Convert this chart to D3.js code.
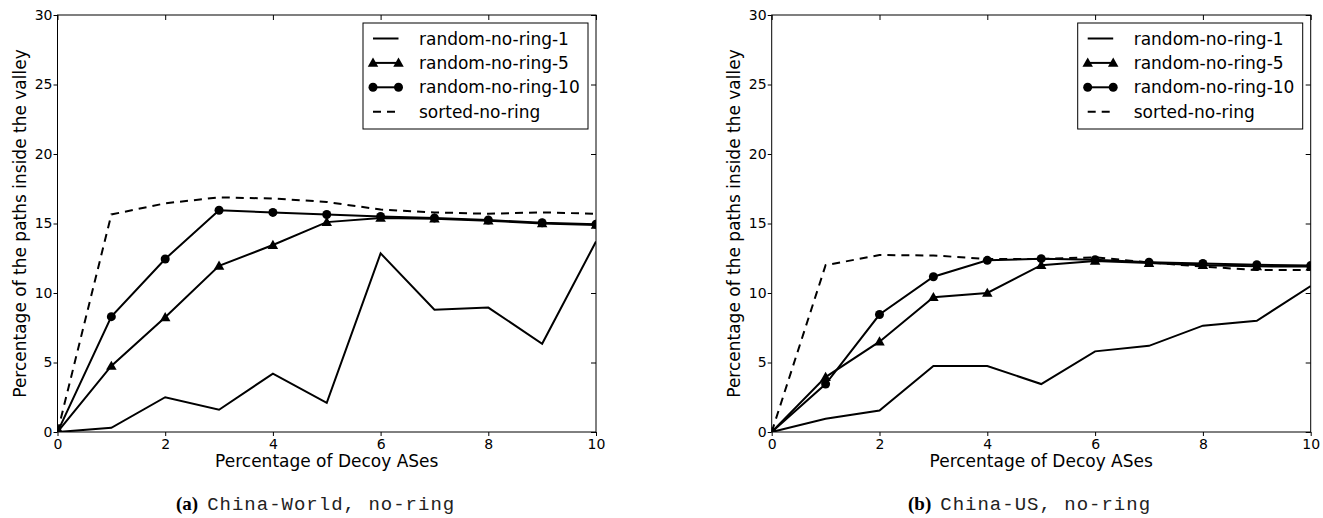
<!DOCTYPE html>
<html>
<head>
<meta charset="utf-8">
<script src="https://cdn.jsdelivr.net/npm/d3@7"></script>
<style>
  html, body { margin: 0; padding: 0; background: #fff; }
  svg { display: block; }
</style>
</head>
<body>
<svg id="chart" width="1323" height="518"></svg>
<script>
// Shared x values (percentage of decoy ASes)
const xValues = [0, 1, 2, 3, 4, 5, 6, 7, 8, 9, 10];
const xTicks = [0, 2, 4, 6, 8, 10];
const yTicks = [0, 5, 10, 15, 20, 25, 30];

const seriesNames = ["random-no-ring-1", "random-no-ring-5", "random-no-ring-10", "sorted-no-ring"];

// (a) China-World, no-ring
const worldRandom1  = [0, 0.3, 2.5, 1.6, 4.2, 2.1, 12.85, 8.8, 8.95, 6.35, 13.7];
const worldRandom5  = [0, 4.75, 8.25, 11.95, 13.45, 15.1, 15.4, 15.35, 15.2, 15.0, 14.9];
const worldRandom10 = [0, 8.3, 12.45, 15.95, 15.8, 15.65, 15.5, 15.4, 15.25, 15.05, 14.95];
const worldSorted   = [0, 15.65, 16.45, 16.88, 16.8, 16.55, 16.0, 15.8, 15.7, 15.8, 15.7];

// (b) China-US, no-ring
const usRandom1  = [0, 0.95, 1.55, 4.75, 4.75, 3.45, 5.8, 6.2, 7.65, 8.0, 10.5];
const usRandom5  = [0, 3.95, 6.5, 9.7, 10.0, 12.0, 12.3, 12.15, 12.0, 11.92, 11.9];
const usRandom10 = [0, 3.45, 8.45, 11.17, 12.35, 12.47, 12.4, 12.22, 12.12, 12.03, 11.97];
const usSorted   = [0, 12.0, 12.73, 12.7, 12.45, 12.45, 12.57, 12.2, 11.9, 11.65, 11.65];

const captionTags = ["(a)", "(b)"];
const captionTexts = ["China-World, no-ring", "China-US, no-ring"];
const xLabel = "Percentage of Decoy ASes";
const yLabel = "Percentage of the paths inside the valley";

const panels = [
  { left: 57.5, right: 596, captionX: 176, series: [worldRandom1, worldRandom5, worldRandom10, worldSorted] },
  { left: 771.7, right: 1310.7, captionX: 908, series: [usRandom1, usRandom5, usRandom10, usSorted] }
];

// Line and marker style per series
const styles = [
  { dash: null, marker: null },
  { dash: null, marker: "triangle" },
  { dash: null, marker: "circle" },
  { dash: "8,6", marker: null }
];

const plotTop = 15, plotBottom = 432;
const svg = d3.select("#chart");
const FONT = "'DejaVu Sans', sans-serif";

function drawMarker(g, type, x, y) {
  if (type === "circle") {
    g.append("circle").attr("cx", x).attr("cy", y).attr("r", 4.5).attr("fill", "#000");
  } else if (type === "triangle") {
    g.append("path")
      .attr("d", d3.symbol().type(d3.symbolTriangle).size(48)())
      .attr("transform", `translate(${x},${y + 0.8})`)
      .attr("fill", "#000");
  }
}

panels.forEach((p, pi) => {
  const x = d3.scaleLinear().domain([0, 10]).range([p.left, p.right]);
  const y = d3.scaleLinear().domain([0, 30]).range([plotBottom, plotTop]);
  const g = svg.append("g");

  const clipId = "clip" + pi;
  svg.append("clipPath").attr("id", clipId)
    .append("rect").attr("x", p.left).attr("y", plotTop)
    .attr("width", p.right - p.left).attr("height", plotBottom - plotTop);

  // Axes: outward ticks on bottom/left, inward on top/right
  const bottomAxis = d3.axisBottom(x).tickValues(xTicks).tickSize(4).tickPadding(3).tickFormat(d3.format("d"));
  const leftAxis = d3.axisLeft(y).tickValues(yTicks).tickSize(4).tickPadding(1).tickFormat(d3.format("d"));
  const topAxis = d3.axisBottom(x).tickValues(xTicks).tickSize(5).tickFormat("");
  const rightAxis = d3.axisLeft(y).tickValues(yTicks).tickSize(5).tickFormat("");

  const gb = g.append("g").attr("transform", `translate(0,${plotBottom})`).call(bottomAxis);
  const gl = g.append("g").attr("transform", `translate(${p.left},0)`).call(leftAxis);
  const gt = g.append("g").attr("transform", `translate(0,${plotTop})`).call(topAxis);
  const gr = g.append("g").attr("transform", `translate(${p.right},0)`).call(rightAxis);
  [gb, gl, gt, gr].forEach(a => {
    a.select(".domain").remove();
    a.selectAll(".tick line").attr("stroke", "#000").attr("stroke-width", 1);
    a.selectAll("text").attr("font-family", FONT).attr("font-size", 14).attr("fill", "#000");
  });

  // Frame
  g.append("rect").attr("x", p.left).attr("y", plotTop)
    .attr("width", p.right - p.left).attr("height", plotBottom - plotTop)
    .attr("fill", "none").attr("stroke", "#000").attr("stroke-width", 1);

  // Series lines and markers
  const plot = g.append("g").attr("clip-path", `url(#${clipId})`);
  p.series.forEach((vals, si) => {
    const st = styles[si];
    const line = d3.line().x((d, i) => x(xValues[i])).y(d => y(d));
    plot.append("path").datum(vals).attr("d", line)
      .attr("fill", "none").attr("stroke", "#000").attr("stroke-width", 2)
      .attr("stroke-linejoin", "miter")
      .attr("stroke-dasharray", st.dash);
    if (st.marker) {
      vals.forEach((v, i) => drawMarker(plot, st.marker, x(xValues[i]), y(v)));
    }
  });

  // Axis titles
  g.append("text").attr("x", (p.left + p.right) / 2).attr("y", 467)
    .attr("text-anchor", "middle").attr("font-family", FONT).attr("font-size", 17)
    .text(xLabel);
  const ylx = p.left - 37.5;
  g.append("text")
    .attr("transform", `translate(${ylx},${(plotTop + plotBottom) / 2}) rotate(-90)`)
    .attr("text-anchor", "middle").attr("dominant-baseline", "central")
    .attr("font-family", FONT).attr("font-size", 17)
    .text(yLabel);

  // Legend
  const lx = p.right - 233, ly = 23, lw = 225, lh = 106;
  const lg = g.append("g");
  lg.append("rect").attr("x", lx).attr("y", ly).attr("width", lw).attr("height", lh)
    .attr("fill", "#fff").attr("stroke", "#000").attr("stroke-width", 1);
  seriesNames.forEach((name, si) => {
    const ry = ly + 15.5 + si * 24.4;
    const x1 = lx + 10, x2 = lx + 35.5;
    lg.append("line").attr("x1", x1).attr("x2", x2).attr("y1", ry).attr("y2", ry)
      .attr("stroke", "#000").attr("stroke-width", 2)
      .attr("stroke-dasharray", styles[si].dash);
    if (styles[si].marker) {
      drawMarker(lg, styles[si].marker, x1, ry);
      drawMarker(lg, styles[si].marker, x2, ry);
    }
    lg.append("text").attr("x", lx + 56).attr("y", ry)
      .attr("dominant-baseline", "central")
      .attr("font-family", FONT).attr("font-size", 17).attr("fill", "#000")
      .text(name);
  });

  // Caption: bold serif tag followed by monospace name
  const cap = svg.append("text").attr("x", p.captionX).attr("y", 510)
    .attr("text-anchor", "start").attr("fill", "#000");
  cap.append("tspan").attr("font-family", "'Liberation Serif', serif")
    .attr("font-weight", "bold").attr("font-size", 19).text(captionTags[pi]);
  cap.append("tspan").attr("font-family", "'Liberation Mono', monospace")
    .attr("font-size", 19).attr("letter-spacing", 1.0).attr("dx", 9)
    .attr("fill", "#222")
    .text(captionTexts[pi]);
});
</script>
</body>
</html>
